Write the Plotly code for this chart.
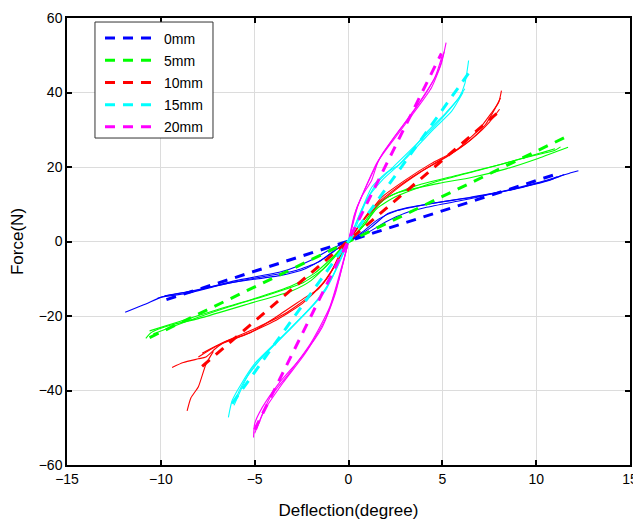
import plotly.graph_objects as go

labels = ["0mm", "5mm", "10mm", "15mm", "20mm"]
colors = ["#0000FF", "#00FF00", "#FF0000", "#00FFFF", "#FF00FF"]

# measured curves (several cycles per specimen)
blue_a_x = [-11.9, -10.8, -10.0, -8.7, -6.2, -3.6, -2.3, -1.2, -0.5, 0, 0.6, 1.2, 2.1, 3.0, 4.8, 6.55, 8.4, 10.1, 11.9, 12.25]
blue_a_y = [-19, -16.8, -15, -14, -11, -9.1, -7.3, -4.2, -1.6, 0, 1.8, 3.8, 7.5, 8.9, 10.5, 11.8, 13.7, 15.8, 18.5, 19]
blue_b_x = [-10.2, -9.5, -8.0, -6.0, -3.5, -2.0, -1.0, -0.4, 0, 0.5, 1.0, 2.0, 3.0, 4.0, 6.0, 9.0, 11.0, 11.5]
blue_b_y = [-15.3, -14.3, -13.0, -10.5, -8.0, -5.0, -2.2, -0.8, 0, 1.2, 2.3, 5.3, 7.6, 9.0, 11.0, 14.3, 17.0, 18.0]
blue_c_x = [-9.8, -8.5, -6.5, -4.5, -2.8, -1.6, -0.8, 0, 0.8, 1.6, 2.6, 4.2, 6.5, 8.8, 10.8, 11.1]
blue_c_y = [-14.6, -13.4, -11.3, -9.4, -7.8, -5.5, -2.6, 0, 2.8, 6.0, 8.3, 10.0, 11.9, 14.0, 16.6, 17.4]

green_a_x = [-10.8, -10.5, -9.5, -8.0, -5.3, -3.0, -2.0, -1.07, -0.5, 0, 0.5, 0.9, 1.6, 2.5, 4.8, 6.55, 8.4, 10.1, 11.7]
green_a_y = [-26, -24.4, -22.5, -20.7, -16.7, -13.2, -10.5, -5.9, -2.4, 0, 2.6, 4.8, 10.2, 12.9, 15.6, 17.2, 19.5, 22.3, 25.3]
green_b_x = [-10.6, -9.0, -7.0, -5.0, -3.0, -1.8, -0.9, 0, 0.8, 1.5, 2.5, 4.5, 7.0, 9.5, 11.0, 11.3]
green_b_y = [-24.0, -21.5, -18.3, -15.3, -11.8, -8.5, -4.5, 0, 4.2, 8.8, 12.0, 15.8, 19.2, 22.6, 24.5, 25.4]
green_c_x = [-10.4, -8.6, -6.4, -4.2, -2.4, -1.3, -0.6, 0, 0.6, 1.2, 2.0, 3.5, 5.8, 8.2, 10.4, 11.0]
green_c_y = [-24.8, -21.4, -17.6, -14.2, -11.0, -7.2, -3.4, 0, 3.4, 7.6, 11.6, 14.8, 17.8, 20.8, 24.0, 24.9]

red_a_x = [-9.4, -8.8, -8.0, -7.6, -7.1, -6.6, -5.2, -3.9, -2.3, -1.6, -0.9, -0.37, 0, 0.4, 0.9, 1.76, 3.0, 4.4, 5.7, 6.9, 7.6, 8.0, 8.15]
red_a_y = [-33.8, -32.5, -31.5, -31, -28.8, -27, -24.4, -20.4, -15, -12.7, -7.8, -2.4, 0, 3.0, 6.4, 11.8, 16.4, 20.9, 24.4, 29.8, 34.4, 37.3, 40.5]
red_b_x = [-8.0, -7.0, -5.5, -4.0, -2.5, -1.3, -0.5, 0, 0.6, 1.5, 2.8, 4.2, 5.6, 6.8, 7.5, 7.9, 8.05]
red_b_y = [-31.0, -28.0, -25.0, -21.5, -16.8, -11.0, -4.5, 0, 4.5, 9.5, 15.0, 19.8, 24.0, 28.5, 32.0, 34.5, 35.5]
red_c_x = [-7.2, -7.6, -8.0, -8.4, -8.6]
red_c_y = [-29.5, -33.0, -39.0, -42.0, -45.5]
red_d_x = [-7.8, -6.8, -5.0, -3.4, -2.0, -1.1, -0.4, 0, 0.5, 1.2, 2.4, 3.8, 5.2, 6.5, 7.3, 7.8, 8.1]
red_d_y = [-30.0, -27.4, -23.4, -19.4, -14.4, -9.6, -3.6, 0, 3.8, 8.6, 13.8, 18.6, 22.6, 27.2, 31.4, 35.6, 38.5]

cyan_a_x = [-6.4, -6.2, -5.7, -5.0, -3.6, -2.13, -1.23, -0.53, 0, 0.53, 1.23, 1.97, 2.66, 4.26, 5.2, 5.9, 6.2, 6.4]
cyan_a_y = [-47.2, -42.7, -38.1, -32.8, -25.8, -18.5, -13.2, -5.9, 0, 6.4, 14.5, 18.3, 20.5, 29.8, 34.6, 38.7, 42.4, 48.6]
cyan_b_x = [-6.0, -5.5, -4.5, -3.0, -1.8, -0.9, -0.3, 0, 0.4, 1.0, 1.8, 3.0, 4.5, 5.5, 6.1]
cyan_b_y = [-42.0, -37.0, -30.5, -23.0, -16.5, -10.0, -3.0, 0, 4.0, 11.5, 16.5, 22.0, 30.0, 35.0, 40.0]
cyan_c_x = [-6.1, -5.2, -4.0, -2.6, -1.5, -0.7, 0, 0.7, 1.5, 2.3, 3.6, 5.0, 5.8, 6.2]
cyan_c_y = [-44.0, -34.5, -28.0, -20.8, -14.8, -8.0, 0, 8.6, 15.6, 19.6, 26.0, 33.2, 38.0, 41.0]

mag_a_x = [-5.06, -5.0, -4.6, -3.7, -2.5, -1.4, -0.7, -0.4, 0, 0.3, 0.7, 1.23, 1.6, 2.66, 3.57, 4.42, 4.95, 5.2]
mag_a_y = [-52.6, -48.9, -44.6, -38, -31, -23, -14, -8, 0, 7, 12, 16.4, 21.7, 29, 35.2, 41.3, 47.8, 53.4]
mag_b_x = [-4.9, -4.5, -3.5, -2.3, -1.2, -0.5, 0, 0.5, 1.1, 1.8, 2.8, 3.8, 4.6, 5.0]
mag_b_y = [-50.5, -45.5, -38.0, -30.0, -20.5, -10.0, 0, 9.5, 16.5, 23.5, 30.5, 37.5, 44.0, 50.0]
mag_c_x = [-5.0, -4.2, -3.2, -2.0, -1.0, -0.3, 0, 0.4, 0.9, 1.5, 2.4, 3.3, 4.2, 4.8, 5.1]
mag_c_y = [-51.5, -42.0, -35.6, -27.2, -17.6, -5.6, 0, 8.4, 14.4, 21.0, 27.8, 33.8, 40.4, 46.0, 51.0]

# linear fits (dashed)
fit_x = [[-9.7, 10.9], [-10.6, 11.6], [-7.8, 8.1], [-6.2, 6.4], [-5.0, 4.95]]
fit_y = [[-15.6, 17.8], [-25.8, 28.1], [-33.5, 35.2], [-43.5, 45.2], [-50.5, 50.5]]

measured = [
    (0, blue_a_x, blue_a_y), (0, blue_b_x, blue_b_y), (0, blue_c_x, blue_c_y),
    (1, green_a_x, green_a_y), (1, green_b_x, green_b_y), (1, green_c_x, green_c_y),
    (2, red_a_x, red_a_y), (2, red_b_x, red_b_y), (2, red_c_x, red_c_y), (2, red_d_x, red_d_y),
    (3, cyan_a_x, cyan_a_y), (3, cyan_b_x, cyan_b_y), (3, cyan_c_x, cyan_c_y),
    (4, mag_a_x, mag_a_y), (4, mag_b_x, mag_b_y), (4, mag_c_x, mag_c_y),
]

fig = go.Figure()
for ci, xs, ys in measured:
    fig.add_trace(go.Scatter(x=xs, y=ys, mode="lines", showlegend=False,
                             line=dict(color=colors[ci], width=1.1, shape="spline", smoothing=0.6),
                             hoverinfo="skip"))
for i, lab in enumerate(labels):
    fig.add_trace(go.Scatter(x=fit_x[i], y=fit_y[i], mode="lines", name=lab,
                             legendgroup=lab,
                             line=dict(color=colors[i], width=3, dash="10px,8px")))

axis_common = dict(showline=True, linecolor="black", linewidth=1.5, mirror="ticks",
                   ticks="inside", ticklen=5, tickcolor="black", tickwidth=1.5,
                   showgrid=True, gridcolor="#dcdcdc", gridwidth=1, zeroline=False,
                   automargin=False,
                   tickfont=dict(family="Liberation Sans, Arial", size=14, color="black"))

# legend frame drawn as a shape so its size can match the original
fig.add_shape(type="rect", xref="paper", yref="paper",
              x0=0.0497, x1=0.2593, y0=0.7315, y1=0.991,
              fillcolor="white", line=dict(color="#333333", width=1), layer="above")

# page body has an 8px margin, so the figure is offset by 8px in the window
fig.update_layout(
    width=633, height=512,
    margin=dict(l=59, r=11, t=10, b=55),
    paper_bgcolor="white", plot_bgcolor="white",
    font=dict(family="Liberation Sans, Arial", color="black"),
    xaxis=dict(range=[-15, 15], dtick=5,
               title=dict(text="Deflection(degree)", font=dict(size=17), standoff=25),
               **axis_common),
    yaxis=dict(range=[-60, 60], dtick=20,
               title=dict(text="Force(N)", font=dict(size=17), standoff=12),
               **axis_common),
    legend=dict(x=0.0586, y=0.99, xanchor="left", yanchor="top",
                bgcolor="rgba(0,0,0,0)", borderwidth=0,
                font=dict(size=14), traceorder="grouped", tracegroupgap=1,
                itemwidth=54),
)

fig.write_html("out.html")
